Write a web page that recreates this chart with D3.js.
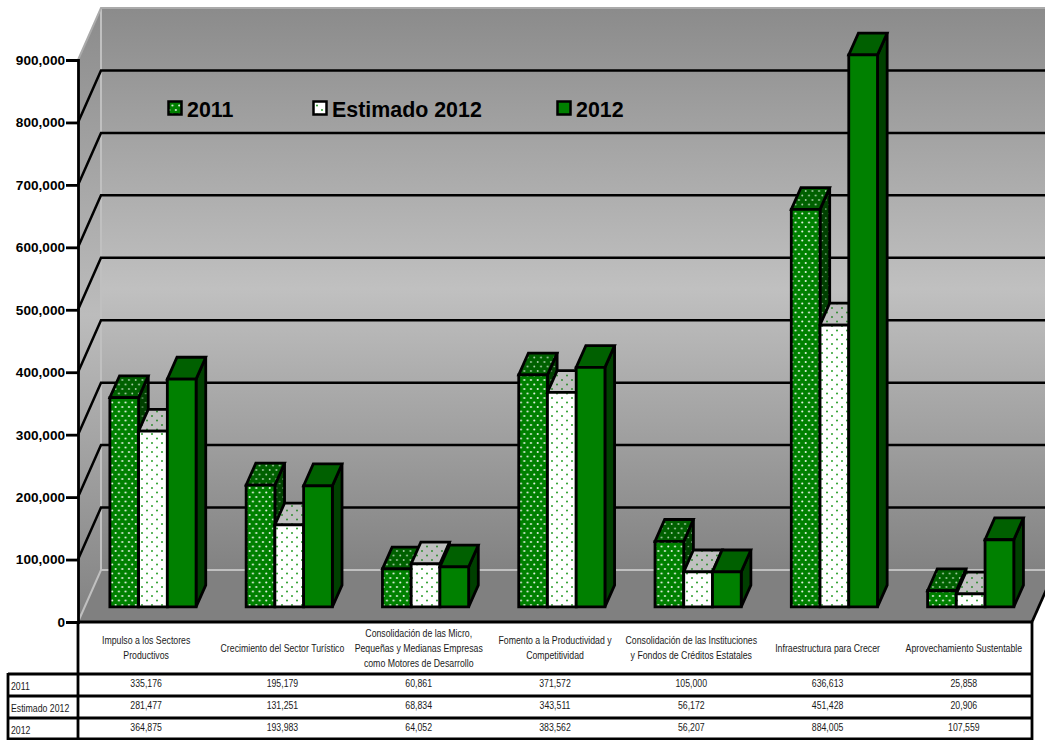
<!DOCTYPE html>
<html><head><meta charset="utf-8">
<script src="https://cdn.jsdelivr.net/npm/d3@7/dist/d3.min.js"></script>
<style>html,body{margin:0;padding:0;background:#fff;overflow:hidden}svg{display:block}text{font-family:"Liberation Sans",Arial,sans-serif}</style>
</head><body><div id="c"></div>
<script>
const categories=[
 ["Impulso a los Sectores","Productivos"],
 ["Crecimiento del Sector Turístico"],
 ["Consolidación de las Micro,","Pequeñas y Medianas Empresas","como Motores de Desarrollo"],
 ["Fomento a la Productividad y","Competitividad"],
 ["Consolidación de las Instituciones","y Fondos de Créditos Estatales"],
 ["Infraestructura para Crecer"],
 ["Aprovechamiento Sustentable"]];
const seriesNames=["2011","Estimado 2012","2012"];
const s2011=[335176,195179,60861,371572,105000,636613,25858];
const sEst=[281477,131251,68834,343511,56172,451428,20906];
const s2012=[364875,193983,64052,383562,56207,884005,107559];
const seriesValues=[s2011,sEst,s2012];
const yTicks=[0,100000,200000,300000,400000,500000,600000,700000,800000,900000];
const legendX=[168.5,313.5,557.5];

const W=1045,H=740;
const svg=d3.select("#c").append("svg").attr("width",W).attr("height",H);
const defs=svg.append("defs");
const y=d3.scaleLinear().domain([0,900000]).range([622,60]);
const xc=d3.scaleBand().domain(d3.range(7)).range([78,1032]);
const xs=d3.scaleBand().domain(d3.range(3)).range([25.2,111.4]);
const DX=23,DY=-52;
const t0=0.29,t1=0.71;
const poly=p=>"M"+p.map(a=>a.join(",")).join("L")+"Z";

function grad(id,x1,y1,x2,y2,stops){
 const g=defs.append("linearGradient").attr("id",id).attr("gradientUnits","userSpaceOnUse")
  .attr("x1",x1).attr("y1",y1).attr("x2",x2).attr("y2",y2);
 stops.forEach(s=>g.append("stop").attr("offset",s[0]).attr("stop-color",s[1]));
}
grad("wall",0,8,0,570,[[0,"#8b8b8b"],[0.5,"#c0c0c0"],[1,"#828282"]]);
grad("lwall",0,8,0,622,[[0,"#8b8b8b"],[0.5,"#bcbcbc"],[1,"#828282"]]);

function pat(id,w,h,bg,dots,fill,r){
 const p=defs.append("pattern").attr("id",id).attr("patternUnits","userSpaceOnUse").attr("width",w).attr("height",h);
 p.append("rect").attr("width",w).attr("height",h).attr("fill",bg);
 dots.forEach(d=>p.append("circle").attr("cx",d[0]).attr("cy",d[1]).attr("r",r).attr("fill",fill));
}
const dense=[[1.7,2],[5,6.5]], sparse=[[2,2],[7,6.5]];
pat("p0front",6.7,9,"#008000",dense,"#e6f3e6",1.05);
pat("p0top",6.7,9,"#006000",dense,"#a9cfa9",.95);
pat("p0side",6.7,9,"#004000",dense,"#80a880",.85);
pat("p1front",10,9,"#ffffff",sparse,"#1f9a1f",.95);
pat("p1top",10,9,"#c0c0c0",sparse,"#2a8a2a",.95);
pat("p1side",10,9,"#808080",sparse,"#206020",.9);
const fronts=["url(#p0front)","url(#p1front)","#008000"];
const tops=["url(#p0top)","url(#p1top)","#006000"];
const sides=["url(#p0side)","url(#p1side)","#004000"];

const xL=78,xR=1032,y0=y(0),yT=y(900000);
svg.append("path").attr("d",poly([[xL,yT],[xL+DX,yT+DY],[xL+DX,y0+DY],[xL,y0]])).attr("fill","url(#lwall)");
svg.append("rect").attr("x",xL+DX).attr("y",yT+DY).attr("width",xR-xL).attr("height",y0-yT).attr("fill","url(#wall)");
svg.append("path").attr("d",poly([[xL,y0],[xL+DX,y0+DY],[xR+DX,y0+DY],[xR,y0]])).attr("fill","#808080");

svg.append("path").attr("d",`M${xL},${y0}L${xL+DX},${y0+DY}L${xR+DX},${y0+DY}M${xL+DX},${y0+DY}L${xL+DX},${yT+DY}`)
 .attr("fill","none").attr("stroke","#c0c0c0").attr("stroke-width",2);
svg.append("path").attr("d",`M${xL},${yT}L${xL+DX},${yT+DY}L${xR+DX},${yT+DY}`)
 .attr("fill","none").attr("stroke","#aaaaaa").attr("stroke-width",2);

const grid=svg.append("g");
yTicks.filter(v=>v>0&&v<900000).forEach(v=>{
 grid.append("path").attr("d",`M${xL},${y(v)}L${xL+DX},${y(v)+DY}L${xR+DX},${y(v)+DY}`)
  .attr("fill","none").attr("stroke","#000").attr("stroke-width",2.5);
});

const bars=svg.append("g");
categories.forEach((c,i)=>{
 seriesValues.forEach((vals,k)=>{
  const v=vals[i];
  const a=xc(i)+xs(k), w=xs.bandwidth();
  const p=(x,val,t)=>[x+DX*t,y(val)+DY*t];
  const g=bars.append("g").attr("stroke","#000").attr("stroke-width",2.8).attr("stroke-linejoin","miter");
  g.append("path").attr("fill",sides[k]).attr("d",poly([p(a+w,0,t0),p(a+w,0,t1),p(a+w,v,t1),p(a+w,v,t0)]));
  g.append("path").attr("fill",tops[k]).attr("d",poly([p(a,v,t0),p(a,v,t1),p(a+w,v,t1),p(a+w,v,t0)]));
  g.append("path").attr("fill",fronts[k]).attr("d",poly([p(a,0,t0),p(a+w,0,t0),p(a+w,v,t0),p(a,v,t0)]));
 });
});

svg.append("path").attr("d",`M${xR},${y0}L${xR+DX},${y0+DY}`).attr("stroke","#000").attr("stroke-width",2.8).attr("fill","none");

const axis=d3.axisLeft(y).tickValues(yTicks).tickFormat(d3.format(",")).tickSize(12).tickPadding(1);
const ag=svg.append("g").attr("transform",`translate(${xL},0)`).call(axis);
ag.select(".domain").attr("stroke","#000").attr("stroke-width",2.8);
ag.selectAll(".tick line").attr("stroke","#000").attr("stroke-width",2.8);
ag.selectAll(".tick text").attr("fill","#000").style("font-size","13.6px").style("font-weight","bold").style("font-family",'"Liberation Sans",Arial,sans-serif');

const rowY=[674,696,718,739];
const tb=svg.append("g").attr("stroke","#000").attr("stroke-width",2.8);
tb.append("line").attr("x1",xL).attr("x2",xR).attr("y1",y0).attr("y2",y0);
rowY.forEach(r=>tb.append("line").attr("x1",8).attr("x2",xR).attr("y1",r).attr("y2",r));
tb.append("line").attr("x1",xL).attr("x2",xL).attr("y1",y0).attr("y2",740);
tb.append("line").attr("x1",xR).attr("x2",xR).attr("y1",y0).attr("y2",740);
tb.append("line").attr("x1",8).attr("x2",8).attr("y1",673).attr("y2",740);

const fmt=d3.format(",");
const T=svg.append("g").attr("fill","#1a1a1a").style("font-size","10px");
const label=(x,yy,s,anchor)=>T.append("text").attr("transform",`translate(${x},${yy}) scale(.875,1)`).attr("text-anchor",anchor).text(s);
categories.forEach((c,i)=>{
 const cx=xc(i)+xc.bandwidth()/2;
 const n=c.length;
 c.forEach((l,j)=>label(cx,648+3.5+(j-(n-1)/2)*15,l,"middle"));
 seriesValues.forEach((vals,k)=>label(cx,rowY[k]+13,fmt(vals[i]),"middle"));
});
seriesNames.forEach((s,k)=>label(11,rowY[k]+16,s,"start"));

const lg=svg.append("g");
seriesNames.forEach((s,k)=>{
 const x=legendX[k];
 lg.append("rect").attr("x",x).attr("y",101.5).attr("width",13).attr("height",13).attr("fill",fronts[k]).attr("stroke","#000").attr("stroke-width",2.5);
 lg.append("text").attr("x",x+18.5).attr("y",117).attr("fill","#000").style("font-size","21.4px").style("font-weight","bold").text(s);
});
</script></body></html>
